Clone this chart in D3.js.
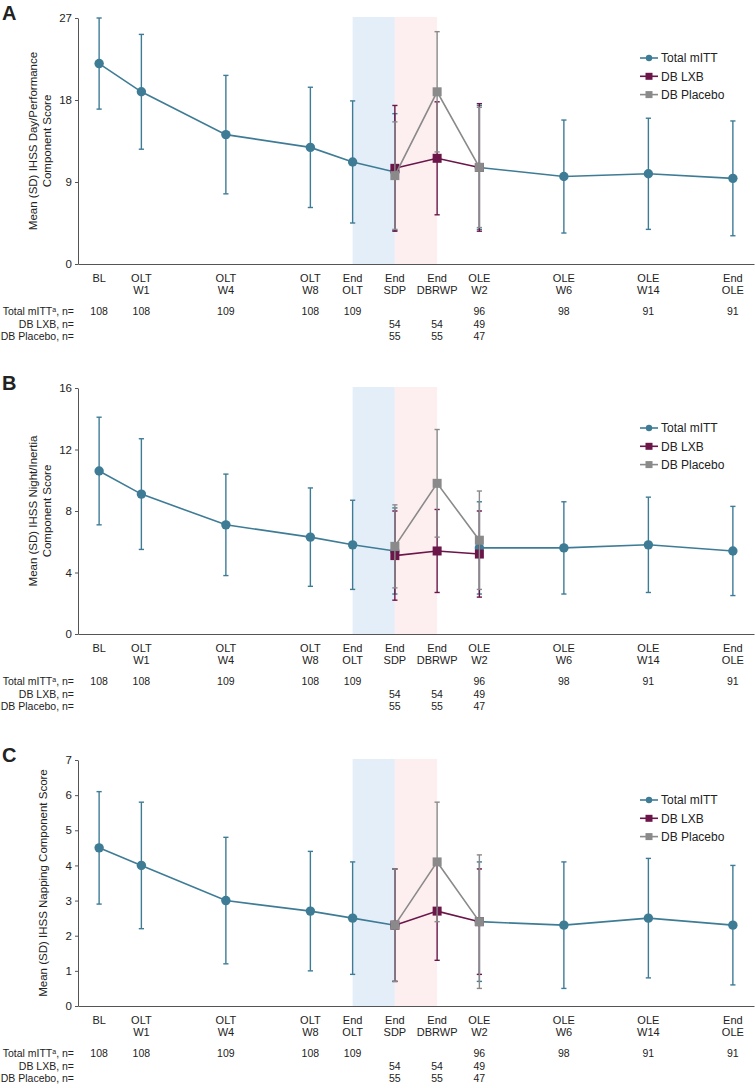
<!DOCTYPE html>
<html>
<head>
<meta charset="utf-8">
<script src="https://cdn.jsdelivr.net/npm/d3@7"></script>
<style>
  body { margin: 0; background: #fff; }
  text { font-family: "Liberation Sans", Arial, sans-serif; fill: #222; }
</style>
</head>
<body>
<script>
// visits (slot = position along the axis, irregular spacing)
const visitSlot = [0, 1, 3, 5, 6, 7, 8, 9, 11, 13, 15];
const labelTop = ["BL", "OLT", "OLT", "OLT", "End", "End", "End", "OLE", "OLE", "OLE", "End"];
const labelBottom = ["", "W1", "W4", "W8", "OLT", "SDP", "DBRWP", "W2", "W6", "W14", "OLE"];

// n per visit
const nTotal = [108, 108, 109, 108, 109, null, null, 96, 98, 91, 91];
const nLxb = [null, null, null, null, null, 54, 54, 49, null, null, null];
const nPlacebo = [null, null, null, null, null, 55, 55, 47, null, null, null];

const seriesNames = ["Total mITT", "DB LXB", "DB Placebo"];

// A: Day/Performance
const dayTotal = [22.0, 18.9, 14.2, 12.8, 11.2, 10.1, null, 10.6, 9.6, 9.9, 9.4];
const dayTotalSD = [5.0, 6.3, 6.5, 6.6, 6.7, 6.4, null, 6.8, 6.2, 6.1, 6.3];
const dayLxb = [null, null, null, null, null, 10.5, 11.6, 10.6, null, null, null];
const dayLxbSD = [null, null, null, null, null, 6.9, 6.2, 7.0, null, null, null];
const dayPlacebo = [null, null, null, null, null, 9.7, 18.9, 10.6, null, null, null];
const dayPlaceboSD = [null, null, null, null, null, 5.9, 6.6, 6.6, null, null, null];
const dayTicks = [0, 9, 18, 27];

// B: Night/Inertia
const nightTotal = [10.6, 9.1, 7.1, 6.3, 5.8, 5.4, null, 5.6, 5.6, 5.8, 5.4];
const nightTotalSD = [3.5, 3.6, 3.3, 3.2, 2.9, 2.8, null, 3.0, 3.0, 3.1, 2.9];
const nightLxb = [null, null, null, null, null, 5.1, 5.4, 5.2, null, null, null];
const nightLxbSD = [null, null, null, null, null, 2.9, 2.7, 2.8, null, null, null];
const nightPlacebo = [null, null, null, null, null, 5.7, 9.8, 6.1, null, null, null];
const nightPlaceboSD = [null, null, null, null, null, 2.7, 3.5, 3.2, null, null, null];
const nightTicks = [0, 4, 8, 12, 16];

// C: Napping
const napTotal = [4.5, 4.0, 3.0, 2.7, 2.5, 2.3, null, 2.4, 2.3, 2.5, 2.3];
const napTotalSD = [1.6, 1.8, 1.8, 1.7, 1.6, 1.6, null, 1.7, 1.8, 1.7, 1.7];
const napLxb = [null, null, null, null, null, 2.3, 2.7, 2.4, null, null, null];
const napLxbSD = [null, null, null, null, null, 1.6, 1.4, 1.5, null, null, null];
const napPlacebo = [null, null, null, null, null, 2.3, 4.1, 2.4, null, null, null];
const napPlaceboSD = [null, null, null, null, null, 1.6, 1.7, 1.9, null, null, null];
const napTicks = [0, 1, 2, 3, 4, 5, 6, 7];

const colTotal = "#3e7c96", colLxb = "#6b1548", colPlacebo = "#8a8a8a";
const plotH = 246;

const panels = [
  {letter: "A", top: 18, ticks: dayTicks, title: ["Mean (SD) IHSS Day/Performance", "Component Score"],
   series: [[dayTotal, dayTotalSD], [dayLxb, dayLxbSD], [dayPlacebo, dayPlaceboSD]]},
  {letter: "B", top: 388, ticks: nightTicks, title: ["Mean (SD) IHSS Night/Inertia", "Component Score"],
   series: [[nightTotal, nightTotalSD], [nightLxb, nightLxbSD], [nightPlacebo, nightPlaceboSD]]},
  {letter: "C", top: 760, ticks: napTicks, title: ["Mean (SD) IHSS Napping Component Score"],
   series: [[napTotal, napTotalSD], [napLxb, napLxbSD], [napPlacebo, napPlaceboSD]]}
];
const styles = [
  {color: colTotal, shape: "circle"},
  {color: colLxb, shape: "square"},
  {color: colPlacebo, shape: "square"}
];

const svg = d3.select("body").append("svg").attr("width", 755).attr("height", 1088);
const x = d3.scaleLinear().domain([-0.5, 15.5]).range([78, 754]);

panels.forEach(p => {
  const g = svg.append("g").attr("transform", "translate(0," + p.top + ")");
  const y = d3.scaleLinear().domain([0, d3.max(p.ticks)]).range([plotH, 0]);

  // shaded periods
  g.append("rect").attr("x", x(visitSlot[4])).attr("width", x(visitSlot[5]) - x(visitSlot[4]))
    .attr("y", -1).attr("height", plotH + 1).attr("fill", "#e3eef9");
  g.append("rect").attr("x", x(visitSlot[5])).attr("width", x(visitSlot[6]) - x(visitSlot[5]))
    .attr("y", -1).attr("height", plotH + 1).attr("fill", "#fdeff0");

  // axes
  const ya = g.append("g").attr("transform", "translate(78,0)")
    .call(d3.axisLeft(y).tickValues(p.ticks).tickSize(3).tickSizeOuter(0).tickFormat(d3.format("d")));
  ya.select(".domain").attr("stroke", "#555");
  ya.selectAll(".tick line").attr("stroke", "#555");
  ya.selectAll(".tick text").attr("font-size", 11.5).attr("fill", "#333")
    .attr("font-family", "Liberation Sans, Arial, sans-serif");

  const xa = g.append("g").attr("transform", "translate(0," + plotH + ")")
    .call(d3.axisBottom(x).tickValues([]).tickSizeOuter(0));
  xa.select(".domain").attr("stroke", "#555");

  // y title
  const mid = plotH / 2;
  const base = p.title.length === 2 ? [37, 51] : [47];
  p.title.forEach((t, i) => {
    g.append("text").attr("transform", "translate(" + base[i] + "," + mid + ") rotate(-90)")
      .attr("text-anchor", "middle").attr("font-size", 11.5).attr("fill", "#333").text(t);
  });

  // panel letter
  g.append("text").attr("x", 2).attr("y", 2).attr("font-size", 20).attr("font-weight", "bold")
    .attr("fill", "#000").text(p.letter);

  // series
  const draw = (k) => {
    const [mean, sd] = p.series[k];
    const st = styles[k];
    const pts = mean.map((m, i) => ({m: m, s: sd[i], x: x(visitSlot[i])}));
    const valid = pts.filter(d => d.m != null);

    const eb = g.append("g").attr("stroke", st.color).attr("stroke-width", 1.4);
    valid.filter(d => d.s != null).forEach(d => {
      eb.append("line").attr("x1", d.x).attr("x2", d.x).attr("y1", y(d.m - d.s)).attr("y2", y(d.m + d.s));
      [d.m - d.s, d.m + d.s].forEach(v => {
        eb.append("line").attr("x1", d.x - 2.6).attr("x2", d.x + 2.6).attr("y1", y(v)).attr("y2", y(v));
      });
    });

    const line = d3.line().defined(d => d.m != null).x(d => d.x).y(d => y(d.m));
    g.append("path").datum(pts).attr("d", line).attr("fill", "none")
      .attr("stroke", st.color).attr("stroke-width", 1.6);

    if (st.shape === "circle") {
      g.selectAll(null).data(valid).enter().append("circle")
        .attr("cx", d => d.x).attr("cy", d => y(d.m)).attr("r", 4.7).attr("fill", st.color);
    } else {
      g.selectAll(null).data(valid).enter().append("rect")
        .attr("x", d => d.x - 4.5).attr("y", d => y(d.m) - 4.5).attr("width", 9).attr("height", 9)
        .attr("fill", st.color);
    }
  };
  draw(0); draw(1); draw(2);

  // legend
  const lg = g.append("g");
  seriesNames.forEach((name, i) => {
    const ly = 40 + i * 18.3;
    const st = styles[i];
    lg.append("line").attr("x1", 640).attr("x2", 658).attr("y1", ly).attr("y2", ly)
      .attr("stroke", st.color).attr("stroke-width", 1.6);
    if (st.shape === "circle") lg.append("circle").attr("cx", 649).attr("cy", ly).attr("r", 3.2).attr("fill", st.color);
    else lg.append("rect").attr("x", 645.5).attr("y", ly - 3.5).attr("width", 7).attr("height", 7).attr("fill", st.color);
    lg.append("text").attr("x", 661).attr("y", ly + 4.3).attr("font-size", 12).attr("fill", "#222").text(name);
  });

  // x labels
  const xl = g.append("g").attr("font-size", 11).attr("text-anchor", "middle");
  visitSlot.forEach((s, i) => {
    xl.append("text").attr("x", x(s)).attr("y", plotH + 18).attr("fill", "#222").text(labelTop[i]);
    if (labelBottom[i]) xl.append("text").attr("x", x(s)).attr("y", plotH + 30).attr("fill", "#222").text(labelBottom[i]);
  });

  // n table
  const tb = g.append("g").attr("font-size", 10.5);
  const rows = [nTotal, nLxb, nPlacebo];
  const rowY = [plotH + 51, plotH + 63.5, plotH + 76];
  const lab0 = tb.append("text").attr("x", 74).attr("y", rowY[0]).attr("text-anchor", "end").attr("fill", "#222");
  lab0.append("tspan").text("Total mITT");
  lab0.append("tspan").attr("font-size", 7).attr("dy", -3).text("a");
  lab0.append("tspan").attr("dy", 3).text(", n=");
  tb.append("text").attr("x", 74).attr("y", rowY[1]).attr("text-anchor", "end").attr("fill", "#222").text("DB LXB, n=");
  tb.append("text").attr("x", 74).attr("y", rowY[2]).attr("text-anchor", "end").attr("fill", "#222").text("DB Placebo, n=");
  rows.forEach((r, j) => {
    r.forEach((n, i) => {
      if (n == null) return;
      tb.append("text").attr("x", x(visitSlot[i])).attr("y", rowY[j]).attr("text-anchor", "middle")
        .attr("fill", "#222").text(n);
    });
  });
});
</script>
</body>
</html>
